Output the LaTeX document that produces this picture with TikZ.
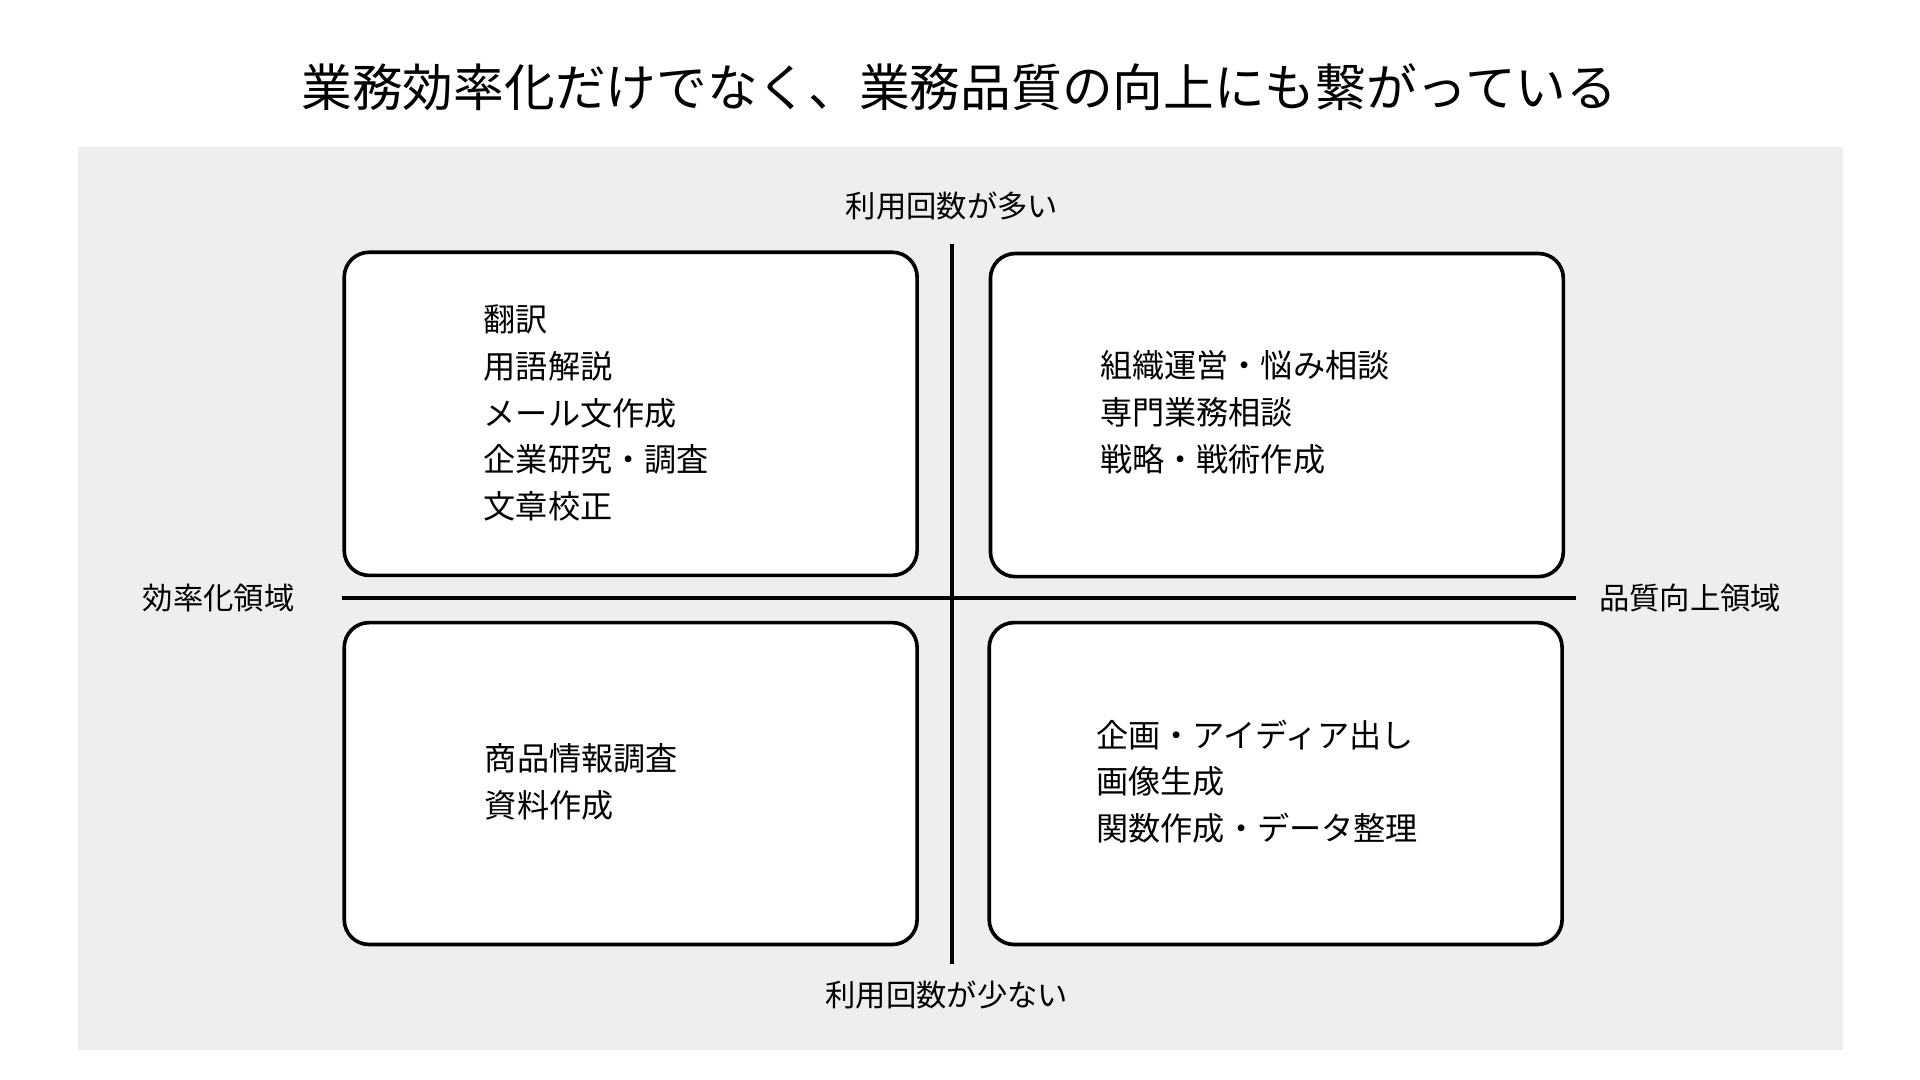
\documentclass[tikz,border=0pt]{standalone}
\usepackage{fontspec}
\setmainfont{Noto Sans CJK JP}
\tikzset{
  quad/.style={draw=black,line width=2.2pt,rounded corners=15pt,fill=white},
  item/.style={anchor=west,inner sep=0pt,align=left,font=\fontsize{19.4}{28.2}\selectfont},
  axislabel/.style={inner sep=0pt,font=\fontsize{18.3}{22}\selectfont},
  axis/.style={line width=2.2pt}
}
\begin{document}
\begin{tikzpicture}[x=0.75pt,y=0.75pt,yscale=-1,xscale=1]
\useasboundingbox (0,0) rectangle (1545,869);

%Shape: background
\fill [color={rgb,255:red,238;green,238;blue,238}] (63,118) rectangle (1483,845);

% Title
\node (title) [inner sep=0pt,font=\fontsize{30.6}{36}\selectfont] at (772,70) {業務効率化だけでなく、業務品質の向上にも繋がっている};

%Shape: quadrants
\draw [quad] (277,203) rectangle (738,463);
\draw [quad] (797,204) rectangle (1258,464);
\draw [quad] (277,501) rectangle (738,760);
\draw [quad] (796,501) rectangle (1257,760);

%Straight Lines: axes
\coordinate (top) at (766,196);
\coordinate (bottom) at (766,776);
\coordinate (left) at (275,481);
\coordinate (right) at (1268,481);
\draw [axis] (top) -- (bottom);
\draw [axis] (left) -- (right);

% Text Node: axis labels
\node (many) [axislabel] at (766,166) {利用回数が多い};
\node (few) [axislabel] at (762,801) {利用回数が少ない};
\node (eff) [axislabel] at (176,481) {効率化領域};
\node (qual) [axislabel] at (1360,481) {品質向上領域};

% Text Node: quadrant items
\node (tl) [item,anchor=north west] at (389,245) {翻訳\\用語解説\\メール文作成\\企業研究・調査\\文章校正};
\node (tr) [item,anchor=north west] at (885,282) {組織運営・悩み相談\\専門業務相談\\戦略・戦術作成};
\node (bl) [item,anchor=north west] at (390,598) {商品情報調査\\資料作成};
\node (br) [item,anchor=north west] at (882,579) {企画・アイディア出し\\画像生成\\関数作成・データ整理};

\end{tikzpicture}
\end{document}
